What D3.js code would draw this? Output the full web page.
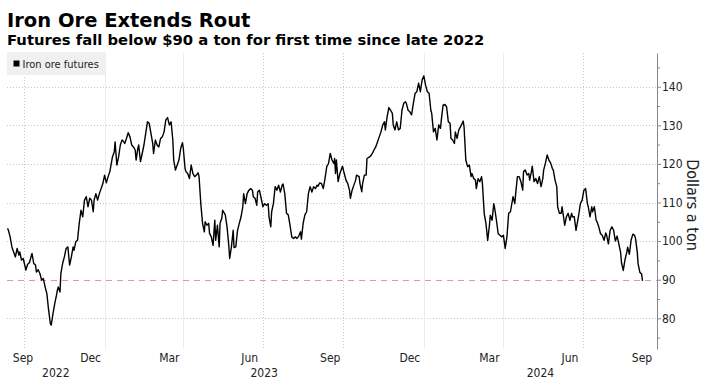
<!DOCTYPE html>
<html><head><meta charset="utf-8">
<script src="https://cdn.jsdelivr.net/npm/d3@7"></script>
<style>body{margin:0;background:#fff}svg{display:block}</style>
</head><body>
<svg id="chart" width="712" height="381"></svg>
<script>
const title = "Iron Ore Extends Rout";
const subtitle = "Futures fall below $90 a ton for first time since late 2022";
const seriesName = "Iron ore futures";
const yAxisTitle = "Dollars a ton";
const dates = ["2022-09-12","2022-09-13","2022-09-15","2022-09-17","2022-09-19","2022-09-21","2022-09-23","2022-09-25","2022-09-26","2022-09-28","2022-09-30","2022-10-03","2022-10-05","2022-10-07","2022-10-10","2022-10-12","2022-10-14","2022-10-15","2022-10-17","2022-10-19","2022-10-21","2022-10-23","2022-10-25","2022-10-27","2022-10-29","2022-10-31","2022-11-01","2022-11-03","2022-11-05","2022-11-07","2022-11-08","2022-11-09","2022-11-11","2022-11-12","2022-11-14","2022-11-16","2022-11-18","2022-11-20","2022-11-22","2022-11-24","2022-11-26","2022-11-27","2022-11-29","2022-12-01","2022-12-03","2022-12-05","2022-12-07","2022-12-09","2022-12-11","2022-12-13","2022-12-15","2022-12-17","2022-12-19","2022-12-20","2022-12-22","2022-12-24","2022-12-26","2022-12-28","2022-12-30","2023-01-01","2023-01-03","2023-01-05","2023-01-07","2023-01-08","2023-01-10","2023-01-12","2023-01-13","2023-01-15","2023-01-17","2023-01-19","2023-01-21","2023-01-23","2023-01-24","2023-01-26","2023-01-28","2023-01-30","2023-02-01","2023-02-03","2023-02-05","2023-02-06","2023-02-08","2023-02-09","2023-02-11","2023-02-13","2023-02-15","2023-02-17","2023-02-19","2023-02-21","2023-02-23","2023-02-25","2023-02-26","2023-02-28","2023-03-02","2023-03-04","2023-03-06","2023-03-08","2023-03-10","2023-03-12","2023-03-14","2023-03-16","2023-03-18","2023-03-20","2023-03-21","2023-03-23","2023-03-25","2023-03-27","2023-03-29","2023-03-31","2023-04-01","2023-04-03","2023-04-04","2023-04-06","2023-04-08","2023-04-10","2023-04-12","2023-04-14","2023-04-16","2023-04-18","2023-04-19","2023-04-21","2023-04-23","2023-04-25","2023-04-26","2023-04-28","2023-04-30","2023-05-01","2023-05-03","2023-05-05","2023-05-07","2023-05-08","2023-05-10","2023-05-12","2023-05-13","2023-05-15","2023-05-16","2023-05-19","2023-05-21","2023-05-23","2023-05-24","2023-05-26","2023-05-28","2023-05-29","2023-05-31","2023-06-02","2023-06-04","2023-06-06","2023-06-08","2023-06-09","2023-06-11","2023-06-13","2023-06-15","2023-06-17","2023-06-19","2023-06-20","2023-06-22","2023-06-24","2023-06-25","2023-06-27","2023-06-29","2023-07-01","2023-07-03","2023-07-05","2023-07-07","2023-07-08","2023-07-10","2023-07-11","2023-07-13","2023-07-15","2023-07-17","2023-07-19","2023-07-21","2023-07-23","2023-07-24","2023-07-26","2023-07-28","2023-07-30","2023-08-01","2023-08-03","2023-08-05","2023-08-07","2023-08-09","2023-08-11","2023-08-13","2023-08-14","2023-08-16","2023-08-18","2023-08-20","2023-08-22","2023-08-24","2023-08-26","2023-08-28","2023-08-30","2023-09-01","2023-09-02","2023-09-04","2023-09-06","2023-09-08","2023-09-10","2023-09-12","2023-09-14","2023-09-16","2023-09-18","2023-09-20","2023-09-21","2023-09-22","2023-09-23","2023-09-25","2023-09-27","2023-09-30","2023-10-02","2023-10-04","2023-10-06","2023-10-08","2023-10-09","2023-10-11","2023-10-13","2023-10-15","2023-10-16","2023-10-19","2023-10-20","2023-10-22","2023-10-23","2023-10-25","2023-10-27","2023-10-28","2023-10-31","2023-11-02","2023-11-04","2023-11-05","2023-11-07","2023-11-09","2023-11-11","2023-11-13","2023-11-15","2023-11-17","2023-11-18","2023-11-20","2023-11-22","2023-11-24","2023-11-26","2023-11-27","2023-11-29","2023-12-01","2023-12-03","2023-12-05","2023-12-07","2023-12-09","2023-12-11","2023-12-12","2023-12-14","2023-12-16","2023-12-18","2023-12-20","2023-12-22","2023-12-24","2023-12-26","2023-12-28","2023-12-30","2024-01-01","2024-01-03","2024-01-05","2024-01-07","2024-01-09","2024-01-10","2024-01-12","2024-01-14","2024-01-16","2024-01-18","2024-01-20","2024-01-21","2024-01-23","2024-01-25","2024-01-27","2024-01-29","2024-01-31","2024-02-01","2024-02-03","2024-02-05","2024-02-06","2024-02-08","2024-02-10","2024-02-11","2024-02-13","2024-02-15","2024-02-16","2024-02-18","2024-02-20","2024-02-22","2024-02-24","2024-02-25","2024-02-27","2024-02-29","2024-03-01","2024-03-03","2024-03-05","2024-03-07","2024-03-08","2024-03-10","2024-03-12","2024-03-14","2024-03-16","2024-03-17","2024-03-19","2024-03-21","2024-03-22","2024-03-24","2024-03-26","2024-03-28","2024-03-30","2024-04-01","2024-04-03","2024-04-05","2024-04-07","2024-04-09","2024-04-10","2024-04-12","2024-04-14","2024-04-15","2024-04-17","2024-04-19","2024-04-21","2024-04-23","2024-04-24","2024-04-26","2024-04-28","2024-04-30","2024-05-01","2024-05-03","2024-05-04","2024-05-06","2024-05-08","2024-05-10","2024-05-12","2024-05-14","2024-05-16","2024-05-17","2024-05-19","2024-05-21","2024-05-23","2024-05-25","2024-05-27","2024-05-28","2024-05-30","2024-06-01","2024-06-02","2024-06-04","2024-06-06","2024-06-07","2024-06-09","2024-06-10","2024-06-12","2024-06-14","2024-06-16","2024-06-18","2024-06-19","2024-06-21","2024-06-23","2024-06-25","2024-06-26","2024-06-28","2024-06-30","2024-07-02","2024-07-04","2024-07-06","2024-07-07","2024-07-09","2024-07-11","2024-07-12","2024-07-14","2024-07-16","2024-07-17","2024-07-19","2024-07-21","2024-07-23","2024-07-25","2024-07-27","2024-07-28","2024-07-30","2024-08-01","2024-08-03","2024-08-05","2024-08-07","2024-08-09","2024-08-11","2024-08-13","2024-08-14","2024-08-16","2024-08-18","2024-08-20","2024-08-21","2024-08-23","2024-08-25","2024-08-27","2024-08-29","2024-08-30","2024-09-01","2024-09-02","2024-09-04","2024-09-06","2024-09-07"];
const prices = [103.3,102.8,101.1,98.5,97.2,95.9,98.1,96.4,97.2,95.1,95.5,92.5,94.0,94.4,96.8,94.2,93.8,92.0,92.6,91.6,89.9,90.3,88.1,86.4,82.1,78.6,78.2,81.2,83.8,86.0,87.3,88.1,86.8,91.6,94.2,95.9,98.1,98.5,93.8,95.9,98.5,97.6,99.8,100.2,104.6,108.0,106.3,110.6,111.5,108.9,111.1,110.6,107.6,110.6,112.3,110.6,112.3,113.6,114.9,117.1,115.1,116.7,118.0,119.3,121.8,123.1,125.7,119.7,121.8,124.9,126.2,125.7,125.3,126.6,128.1,127.0,124.9,124.4,123.6,121.0,124.0,124.9,120.6,122.7,124.9,127.9,130.9,130.5,127.9,125.3,122.7,126.2,124.9,124.4,126.6,127.0,128.3,131.4,132.0,130.1,130.9,126.2,121.0,118.4,119.7,121.0,124.0,125.5,124.0,118.8,118.0,117.5,116.2,119.7,117.5,116.7,117.1,117.7,116.7,109.7,104.6,102.4,105.0,104.1,104.6,102.0,101.1,98.9,105.4,100.2,104.1,98.5,104.6,105.9,108.0,106.8,103.7,98.9,95.5,98.5,102.8,98.3,98.5,102.8,104.6,106.3,108.9,112.3,109.7,112.3,113.2,113.6,113.2,111.5,111.1,109.3,112.7,113.2,111.1,108.9,109.7,109.3,109.7,106.3,103.7,107.6,109.7,114.1,113.2,114.5,112.7,114.5,114.8,112.3,107.2,106.8,104.1,101.1,100.7,101.1,100.7,101.3,102.4,100.5,104.6,106.8,107.6,112.3,114.1,112.7,114.1,113.6,114.5,114.2,115.1,114.9,113.6,116.2,119.3,120.1,122.7,121.0,120.1,121.4,117.5,121.0,115.4,117.5,119.4,117.5,115.8,114.9,113.2,111.1,113.2,114.5,115.8,117.1,116.7,114.9,112.8,114.9,117.1,117.1,121.4,121.8,122.3,123.1,123.6,124.4,125.7,127.0,128.3,130.1,130.9,128.8,132.2,134.6,133.9,133.1,130.1,128.8,130.9,128.8,129.2,133.9,135.7,136.1,135.7,133.9,133.5,132.7,135.7,138.3,138.7,140.9,138.7,141.7,142.8,140.4,138.7,138.3,133.9,133.1,128.3,129.2,126.2,130.1,129.2,131.4,135.2,135.4,134.8,130.9,130.5,126.6,126.2,125.3,128.3,126.6,128.8,129.2,130.1,131.1,129.6,121.0,119.3,119.7,116.7,117.5,116.2,115.8,113.6,116.2,115.4,116.7,114.9,107.2,104.6,100.2,104.1,106.7,105.4,109.7,108.5,105.4,101.9,101.5,101.1,101.5,98.1,101.1,107.2,107.6,108.9,111.5,109.7,112.3,116.7,116.7,115.4,113.2,118.0,118.4,117.1,117.5,115.8,118.0,119.4,115.4,116.2,114.9,116.7,114.1,116.2,118.4,120.2,122.3,121.0,120.2,118.8,118.4,115.8,114.1,108.9,107.2,107.2,108.9,105.9,104.1,106.3,107.2,105.4,107.2,106.3,106.3,102.8,105.4,106.7,109.7,110.6,113.2,113.6,109.7,108.9,106.3,108.9,107.6,108.9,105.4,105.0,103.7,101.9,101.5,100.2,102.1,101.5,99.3,102.8,103.7,102.8,100.0,101.3,99.2,97.0,94.4,92.4,95.2,97.1,98.4,96.6,100.3,101.8,101.5,100.7,97.2,94.1,91.9,91.5,89.7];
const yTicks = [80, 90, 100, 110, 120, 130, 140];
const yMinorTicks = [75, 85, 95, 105, 115, 125, 135, 145];
const referenceLevel = 90;
const monthLabelNames = ["Sep","Dec","Mar","Jun","Sep","Dec","Mar","Jun","Sep"];
const monthLabelDates = ["2022-09-16","2022-12-16","2023-03-16","2023-06-16","2023-09-16","2023-12-16","2024-03-16","2024-06-16","2024-09-16"];
const yearLabels = ["2022","2023","2024"];
const yearStarts = ["2022-01-01","2023-01-01","2024-01-01"];
const gridDates = ["2022-10-01","2023-01-01","2023-04-01","2023-07-01","2023-10-01","2024-01-01","2024-04-01","2024-07-01"];
const xDomain = ["2022-09-11T10:00Z","2024-09-23T14:00Z"];
const yDomain = [72.05, 148.73];

const parse = d3.utcParse("%Y-%m-%d");
const data = dates.map((d, i) => ({date: parse(d), value: prices[i]}));
const F = '"DejaVu Sans Condensed","DejaVu Sans",sans-serif';
const FB = '"DejaVu Sans",sans-serif';

const L = 7, R = 657, T = 53, B = 349;
const svg = d3.select("#chart");
const x = d3.scaleUtc().domain(xDomain.map(s => new Date(s))).range([L, R]);
const y = d3.scaleLinear().domain(yDomain).range([B, T]);

svg.append("text").attr("x", 7).attr("y", 26.5).text(title)
  .attr("font-family", FB).attr("font-weight", "bold").attr("font-size", 19.5).attr("fill", "#000");
svg.append("text").attr("x", 7).attr("y", 45).text(subtitle)
  .attr("font-family", FB).attr("font-weight", "bold").attr("font-size", 14.8).attr("fill", "#000");

// horizontal grid (the reference level gets its own dashed line)
svg.append("g").selectAll("line").data(yTicks.filter(v => v !== referenceLevel)).join("line")
  .attr("x1", L).attr("x2", R).attr("y1", d => Math.round(y(d)) + 0.5).attr("y2", d => Math.round(y(d)) + 0.5)
  .attr("stroke", "#c8c8c8").attr("stroke-dasharray", "1,2");
// vertical grid
svg.append("g").selectAll("line").data(gridDates.map(parse)).join("line")
  .attr("x1", d => Math.round(x(d)) + 0.5).attr("x2", d => Math.round(x(d)) + 0.5).attr("y1", T).attr("y2", B)
  .attr("stroke", d => (d.getUTCMonth() === 0 || d.getUTCMonth() === 3) ? "#ececec" : "#c8c8c8")
  .attr("stroke-dasharray", d => (d.getUTCMonth() === 0 || d.getUTCMonth() === 3) ? null : "1,2");

// reference line
svg.append("line").attr("x1", L).attr("x2", R)
  .attr("y1", Math.round(y(referenceLevel)) + 0.5).attr("y2", Math.round(y(referenceLevel)) + 0.5)
  .attr("stroke", "#e09a9a").attr("stroke-width", 1).attr("stroke-dasharray", "6,5");

// legend
svg.append("rect").attr("x", 7).attr("y", 52).attr("width", 98).attr("height", 23).attr("fill", "#f0f0f0");
svg.append("rect").attr("x", 13.5).attr("y", 60.5).attr("width", 6).attr("height", 6).attr("fill", "#000");
svg.append("text").attr("x", 22.5).attr("y", 68).text(seriesName)
  .attr("font-family", F).attr("font-size", 11).attr("fill", "#222");

// line
svg.append("path").datum(data)
  .attr("d", d3.line().x(d => x(d.date)).y(d => y(d.value)))
  .attr("fill", "none").attr("stroke", "#000").attr("stroke-width", 1.4).attr("stroke-linejoin", "round");

// right axis
const ax = svg.append("g").attr("transform", `translate(${R},0)`)
  .call(d3.axisRight(y).tickValues(yTicks).tickSize(4).tickSizeOuter(0).tickPadding(1).tickFormat(d3.format("d")));
ax.select(".domain").attr("stroke", "#888");
ax.selectAll(".tick line").attr("stroke", "#888");
ax.selectAll("text").attr("font-family", F).attr("font-size", 12).attr("fill", "#222");
const axm = svg.append("g").attr("transform", `translate(${R},0)`)
  .call(d3.axisRight(y).tickValues(yMinorTicks.filter(v => v > yDomain[0] && v < yDomain[1])).tickSize(3).tickSizeOuter(0).tickFormat(""));
axm.select(".domain").remove();
axm.selectAll(".tick line").attr("stroke", "#888");

svg.append("text").attr("transform", `translate(687,205) rotate(90)`).attr("text-anchor", "middle")
  .text(yAxisTitle).attr("font-family", F).attr("font-size", 16).attr("fill", "#222");

// x labels
svg.append("g").selectAll("text").data(monthLabelNames).join("text")
  .attr("x", (d, i) => Math.max(L + 16, Math.min(R - 15, x(parse(monthLabelDates[i])))))
  .attr("y", 362).attr("text-anchor", "middle").text(d => d)
  .attr("font-family", F).attr("font-size", 12).attr("fill", "#222");
svg.append("g").selectAll("text").data(yearLabels).join("text")
  .attr("x", (d, i) => {
    const s = Math.max(L, x(parse(yearStarts[i])));
    const e = i + 1 < yearStarts.length ? x(parse(yearStarts[i + 1])) : R;
    return (s + Math.min(e, R)) / 2;
  })
  .attr("y", 377).attr("text-anchor", "middle").text(d => d)
  .attr("font-family", F).attr("font-size", 12).attr("fill", "#222");
</script>
</body></html>
